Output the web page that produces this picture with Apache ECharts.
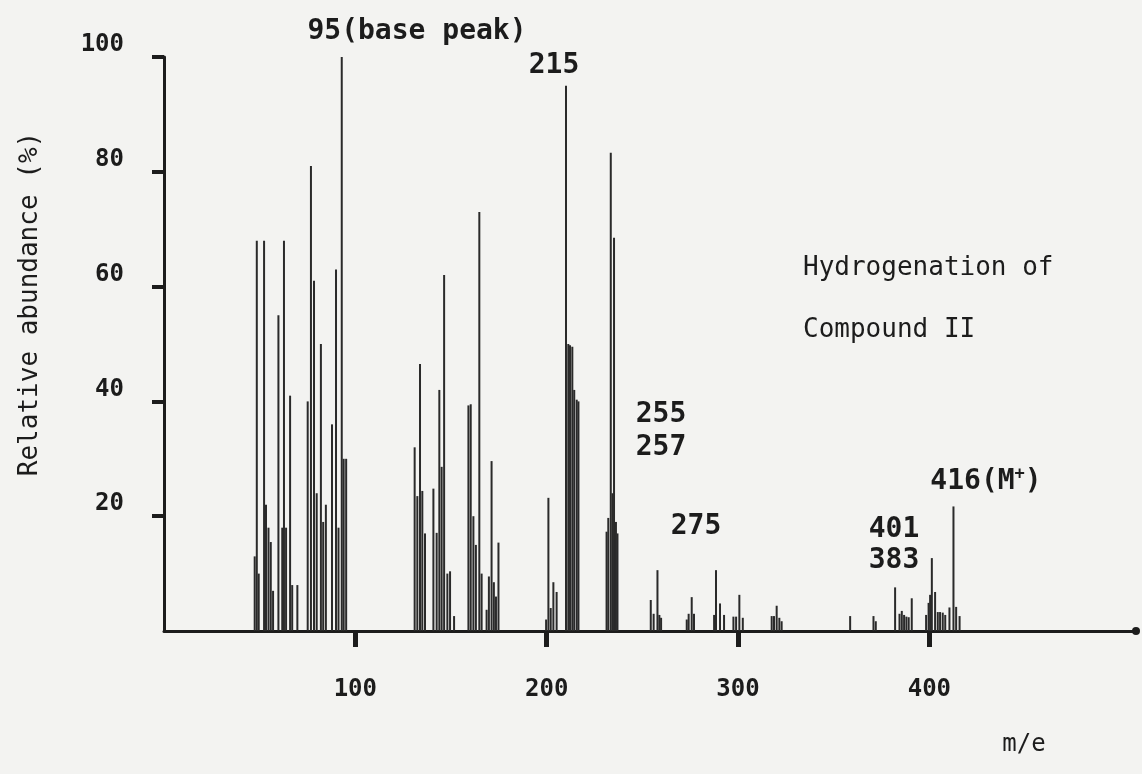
<!DOCTYPE html>
<html>
<head>
<meta charset="utf-8">
<script src="https://cdn.jsdelivr.net/npm/echarts@6/dist/echarts.min.js"></script>
<style>
html,body{margin:0;padding:0;background:#f3f3f1;}
#chart{width:1142px;height:774px;}
</style>
</head>
<body>
<div id="chart"></div>
<script>
// m/e positions of peaks
const mz = [
  47.4, 48.5, 49.5, 52.3, 53.3, 54.6, 55.8, 57.0, 59.8, 61.8, 62.7, 63.8, 65.9, 67.0, 69.7,
  75.1, 76.8, 78.4, 79.8, 82.0, 83.2, 84.6, 87.8, 89.9, 91.2, 92.9, 93.9, 95.2,
  131.0, 132.4, 133.8, 135.0, 136.4, 140.8, 142.5, 143.9, 145.1, 146.4, 148.1, 149.5, 151.6,
  159.1, 160.3, 161.7, 163.0, 164.8, 166.0, 168.6, 169.8, 171.2, 172.4, 173.5, 174.8,
  199.7, 200.9, 202.1, 203.5, 205.2, 210.1, 211.3, 212.2, 213.4, 214.4, 215.7, 216.6,
  231.3, 232.2, 233.5, 234.4, 235.2, 236.2, 237.0,
  254.4, 255.9, 257.9, 258.9, 259.8,
  273.2, 274.2, 275.8, 277.0,
  287.5, 288.5, 290.6, 292.7,
  297.6, 299.0, 300.7, 302.5,
  317.6, 318.8, 320.2, 321.6, 322.8,
  358.6, 370.8, 372.0,
  382.1, 384.4, 385.6, 386.8, 388.0, 389.2, 390.8,
  398.3, 399.6, 400.4, 401.3, 403.0, 404.4, 405.6, 407.0, 408.3, 410.5, 412.6, 414.0, 415.8
];
// relative abundance (%) of each peak
const abundance = [
  13, 68, 10, 68, 22, 18, 15.5, 7, 55, 18, 68, 18, 41, 8, 8,
  40, 81, 61, 24, 50, 19, 22, 36, 63, 18, 100, 30, 30,
  32, 23.5, 46.5, 24.4, 17, 24.8, 17.1, 42, 28.6, 62, 10, 10.4, 2.6,
  39.3, 39.5, 20, 15, 73, 10, 3.7, 9.5, 29.6, 8.5, 6, 15.4,
  2, 23.2, 4, 8.5, 6.8, 95, 50, 49.8, 49.5, 42, 40.3, 40,
  17.3, 19.7, 83.3, 24, 68.5, 19, 17,
  5.4, 3, 10.6, 2.8, 2.3,
  2, 3, 5.9, 3,
  2.8, 10.6, 4.8, 2.8,
  2.5, 2.5, 6.3, 2.3,
  2.6, 2.6, 4.4, 2.3, 1.7,
  2.6, 2.6, 1.7,
  7.6, 3, 3.5, 2.8, 2.5, 2.4, 5.7,
  2.8, 4.9, 6.3, 12.7, 6.8, 3.3, 3.3, 3.2, 2.8, 4.1, 21.7, 4.2, 2.6
];
const xTicks = [100, 200, 300, 400];
const yTicks = [20, 40, 60, 80, 100];

const peaks = mz.map((m, i) => [m, abundance[i]]);

const mono = '"DejaVu Sans Mono", "Liberation Mono", monospace';
const ink = '#1c1c1c';

const chart = echarts.init(document.getElementById('chart'));
chart.setOption({
  backgroundColor: '#f3f3f1',
  animation: false,
  grid: { left: 164, right: 6, top: 57, bottom: 143, containLabel: false },
  xAxis: {
    type: 'value', min: 0, max: 508, interval: 100,
    splitLine: { show: false },
    axisLine: { show: true, onZero: false, symbol: ['none', 'circle'], symbolSize: [8, 8],
      lineStyle: { color: ink, width: 3 } },
    axisTick: { show: true, inside: false, length: 16, customValues: xTicks,
      lineStyle: { color: ink, width: 5 } },
    axisLabel: { show: true, customValues: xTicks, margin: 47,
      formatter: v => (xTicks.indexOf(v) >= 0 ? String(v) : ''),
      fontFamily: mono, fontWeight: 'bold', fontSize: 24, color: ink }
  },
  yAxis: {
    type: 'value', min: 0, max: 100, interval: 20,
    splitLine: { show: false },
    axisLine: { show: true, onZero: false, lineStyle: { color: ink, width: 3 } },
    axisTick: { show: true, inside: false, length: 12, customValues: yTicks,
      lineStyle: { color: ink, width: 4 } },
    axisLabel: { show: true, customValues: yTicks, margin: 40, verticalAlign: 'bottom',
      formatter: v => (yTicks.indexOf(v) >= 0 ? String(v) : ''),
      fontFamily: mono, fontWeight: 'bold', fontSize: 24, color: ink }
  },
  series: [{
    type: 'bar',
    data: peaks,
    barWidth: 2,
    itemStyle: { color: '#2a2a2a' },
    silent: true
  }],
  graphic: [
    { type: 'text', x: 30, y: 304, rotation: Math.PI / 2,
      style: { text: 'Relative abundance (%)', font: '26px ' + mono, fill: ink, align: 'center', verticalAlign: 'middle' } },
    { type: 'text', x: 417, y: 32,
      style: { text: '95(base peak)', font: 'bold 28px ' + mono, fill: ink, align: 'center', verticalAlign: 'middle' } },
    { type: 'text', x: 554, y: 66,
      style: { text: '215', font: 'bold 28px ' + mono, fill: ink, align: 'center', verticalAlign: 'middle' } },
    { type: 'text', x: 661, y: 415,
      style: { text: '255', font: 'bold 28px ' + mono, fill: ink, align: 'center', verticalAlign: 'middle' } },
    { type: 'text', x: 661, y: 448,
      style: { text: '257', font: 'bold 28px ' + mono, fill: ink, align: 'center', verticalAlign: 'middle' } },
    { type: 'text', x: 696, y: 527,
      style: { text: '275', font: 'bold 28px ' + mono, fill: ink, align: 'center', verticalAlign: 'middle' } },
    { type: 'text', x: 894, y: 530,
      style: { text: '401', font: 'bold 28px ' + mono, fill: ink, align: 'center', verticalAlign: 'middle' } },
    { type: 'text', x: 894, y: 561,
      style: { text: '383', font: 'bold 28px ' + mono, fill: ink, align: 'center', verticalAlign: 'middle' } },
    { type: 'text', x: 986, y: 482,
      style: { text: '416(M{sup|+})', font: 'bold 28px ' + mono, fill: ink, align: 'center', verticalAlign: 'middle',
        rich: { sup: { fontFamily: mono, fontWeight: 'bold', fontSize: 17, fill: ink, padding: [0, 0, 15, 0] } } } },
    { type: 'text', x: 803, y: 268,
      style: { text: 'Hydrogenation of', font: '26px ' + mono, fill: ink, align: 'left', verticalAlign: 'middle' } },
    { type: 'text', x: 803, y: 330,
      style: { text: 'Compound II', font: '26px ' + mono, fill: ink, align: 'left', verticalAlign: 'middle' } },
    { type: 'text', x: 1024, y: 745,
      style: { text: 'm/e', font: '24px ' + mono, fill: ink, align: 'center', verticalAlign: 'middle' } }
  ]
});
</script>
</body>
</html>
